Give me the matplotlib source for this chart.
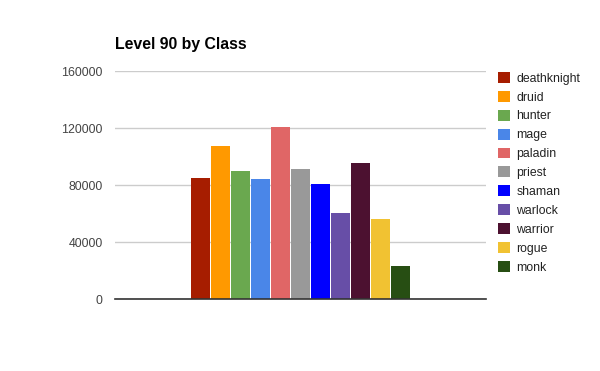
import matplotlib
matplotlib.use('Agg')
import matplotlib.pyplot as plt
import numpy as np

plt.rcParams['font.family'] = ['Liberation Sans', 'DejaVu Sans']

# data
classes = ['deathknight', 'druid', 'hunter', 'mage', 'paladin', 'priest',
           'shaman', 'warlock', 'warrior', 'rogue', 'monk']
counts = [85000, 107500, 90000, 84500, 121000, 91500,
          81000, 60500, 95500, 56500, 23500]
colors = ['#a61d00', '#ff9900', '#6aa84f', '#4a86e8', '#e06666', '#999999',
          '#0000ff', '#674ea7', '#4c1130', '#f1c232', '#274e13']
yticks = [0, 40000, 80000, 120000, 160000]

fig = plt.figure(figsize=(6, 3.71), dpi=100)
ax = fig.add_axes([0.1917, 0.1933, 0.6183, 0.6145])

pos = np.arange(len(classes))
for i, (name, val, col) in enumerate(zip(classes, counts, colors)):
    ax.bar(pos[i], val, width=0.95, color=col, label=name, zorder=2)

center = (len(classes) - 1) / 2
ax.set_xlim(center - 9.275, center + 9.275)
ax.set_ylim(0, 160000)
ax.set_yticks(yticks)
ax.set_yticklabels([str(t) for t in yticks])
ax.set_xticks([])
ax.tick_params(axis='y', length=0, pad=9, labelsize=8.9, labelcolor='#444444')
ax.grid(axis='y', color='#cccccc', linewidth=1, zorder=0)
for s in ['top', 'right', 'left']:
    ax.spines[s].set_visible(False)
ax.spines['bottom'].set_color('#333333')
ax.spines['bottom'].set_linewidth(1.2)
ax.spines['bottom'].set_zorder(3)

fig.text(115 / 600, 1 - 45 / 371, 'Level 90 by Class', fontsize=11.4,
         fontweight='bold', va='center', ha='left', color='black')

leg = ax.legend(loc='upper left', bbox_to_anchor=(498 / 600, 1 - 72 / 371),
                bbox_transform=fig.transFigure, frameon=False, fontsize=8.8,
                handlelength=1.0, handleheight=1.0, handletextpad=0.5,
                labelspacing=0.51, borderpad=0, borderaxespad=0)
for t in leg.get_texts():
    t.set_color('#222222')

fig.savefig('out.png', dpi=100)
